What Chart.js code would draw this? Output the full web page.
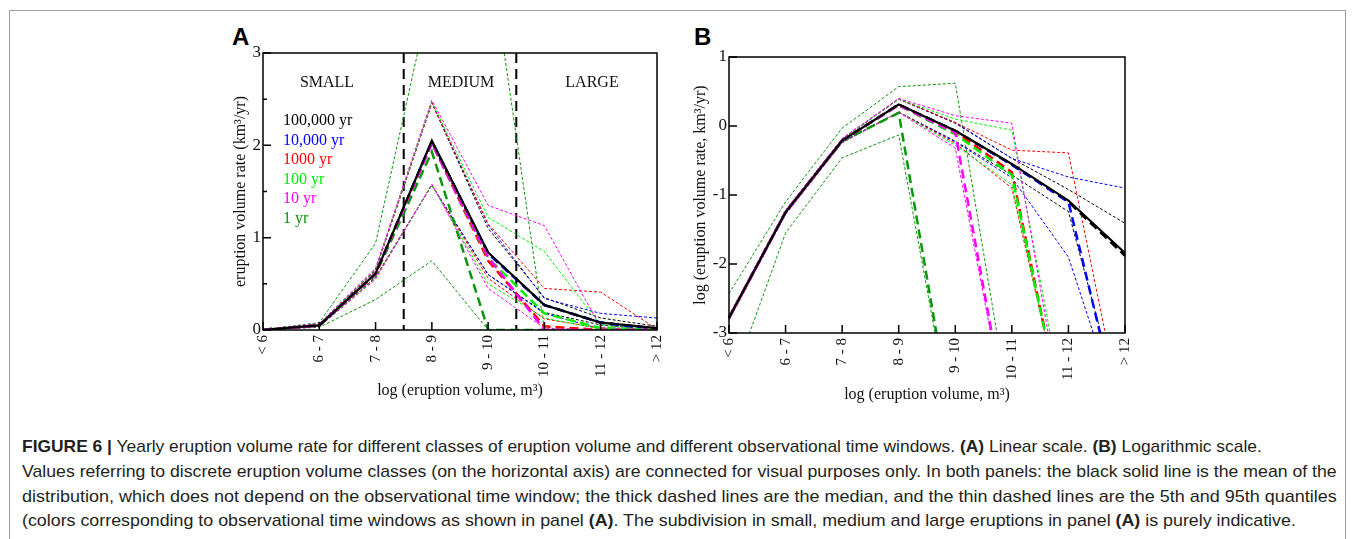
<!DOCTYPE html>
<html>
<head>
<meta charset="utf-8">
<script src="https://cdn.jsdelivr.net/npm/chart.js@4.4.1/dist/chart.umd.min.js"></script>
<style>
  body { margin: 0; background: #fff; width: 1356px; height: 539px; overflow: hidden; position: relative;
         font-family: "Liberation Serif", "DejaVu Serif", serif; color: #111; }
  .frame { position: absolute; left: 9px; top: 10px; width: 1335px; height: 540px; border: 1px solid #a0a0a0; }
  .box { position: absolute; }
  .panel { position: absolute; font: bold 24px "Liberation Sans", Arial, sans-serif; color: #000; }
  .region { position: absolute; font-size: 16px; transform: translateX(-50%); white-space: nowrap; }
  .leg { position: absolute; left: 283px; font-size: 16px; line-height: 18px; white-space: nowrap; }
  .cap { position: absolute; left: 22px; font: 17px "Liberation Sans", Arial, sans-serif; line-height: 20px;
         white-space: nowrap; color: #231f20; transform-origin: 0 0; }
</style>
</head>
<body>
<div class="frame"></div>

<div class="panel" style="left:232px;top:23px">A</div>
<div class="panel" style="left:694px;top:23px">B</div>

<div class="box" style="left:200px;top:20px"><canvas id="chartA" width="480" height="400"></canvas></div>
<div class="box" style="left:680px;top:20px"><canvas id="chartB" width="470" height="400"></canvas></div>

<div class="region" style="left:327px;top:73px">SMALL</div>
<div class="region" style="left:461px;top:73px">MEDIUM</div>
<div class="region" style="left:592px;top:73px">LARGE</div>
<div id="legend"></div>

<div class="cap" id="cap1" style="top:437px"><b>FIGURE 6 |</b> Yearly eruption volume rate for different classes of eruption volume and different observational time windows. <b>(A)</b> Linear scale. <b>(B)</b> Logarithmic scale.</div>
<div class="cap" id="cap2" style="top:462px">Values referring to discrete eruption volume classes (on the horizontal axis) are connected for visual purposes only. In both panels: the black solid line is the mean of the</div>
<div class="cap" id="cap3" style="top:487px">distribution, which does not depend on the observational time window; the thick dashed lines are the median, and the thin dashed lines are the 5th and 95th quantiles</div>
<div class="cap" id="cap4" style="top:511px">(colors corresponding to observational time windows as shown in panel <b>(A)</b>. The subdivision in small, medium and large eruptions in panel <b>(A)</b> is purely indicative.</div>

<script>
// Categories and time windows
const categories = ['< 6', '6 - 7', '7 - 8', '8 - 9', '9 - 10', '10 - 11', '11 - 12', '> 12'];
const windows = ['100,000 yr', '10,000 yr', '1000 yr', '100 yr', '10 yr', '1 yr'];
const colors = ['#000000', '#0000ff', '#ff0000', '#00ee00', '#ff00ff', '#0a960a'];
const dividers = [2.5, 4.5];

// Panel A: linear rate (km3/yr), one row per time window
const aMean = [0.003, 0.05, 0.61, 2.05, 0.84, 0.27, 0.08, 0.02];
const aMedian = [
    [0.003, 0.05, 0.61, 2.04, 0.83, 0.27, 0.08, 0.015],
    [0.003, 0.05, 0.61, 2.04, 0.83, 0.27, 0.08, 0],
    [0.003, 0.05, 0.61, 2.03, 0.75, 0.04, 0, 0],
    [0.003, 0.05, 0.61, 2.02, 0.78, 0.18, 0.02, 0],
    [0.003, 0.05, 0.61, 2.02, 0.79, 0, 0, 0],
    [0.003, 0.05, 0.6, 1.93, 0, 0, 0, 0]
];
const aQ95 = [
    [0.003, 0.06, 0.65, 2.46, 1.1, 0.35, 0.13, 0.04],
    [0.003, 0.06, 0.65, 2.46, 1.14, 0.34, 0.18, 0.13],
    [0.003, 0.06, 0.65, 2.46, 1.15, 0.45, 0.41, 0.01],
    [0.003, 0.06, 0.66, 2.47, 1.22, 0.85, 0.05, 0],
    [0.003, 0.07, 0.67, 2.49, 1.35, 1.13, 0.03, 0],
    [0.004, 0.08, 0.94, 3.7, 4.2, 0, 0, 0]
];
const aQ05 = [
    [0.002, 0.04, 0.57, 1.57, 0.6, 0.19, 0.055, 0],
    [0.002, 0.04, 0.57, 1.57, 0.6, 0.18, 0.012, 0],
    [0.002, 0.04, 0.57, 1.57, 0.56, 0.12, 0.02, 0],
    [0.002, 0.04, 0.56, 1.57, 0.5, 0.13, 0.01, 0],
    [0.002, 0.035, 0.55, 1.58, 0.45, 0.02, 0, 0],
    [0, 0.03, 0.33, 0.75, 0, 0, 0, 0]
];

// Panel B: log10 of the rate
const bMean = [-2.78, -1.25, -0.21, 0.31, -0.07, -0.55, -1.08, -1.84];
const bMedian = [
    [-2.78, -1.25, -0.21, 0.31, -0.07, -0.56, -1.1, -1.88],
    [-2.78, -1.25, -0.21, 0.31, -0.07, -0.56, -1.1, -4.5],
    [-2.78, -1.25, -0.21, 0.31, -0.08, -0.67, -4.6, -4.6],
    [-2.78, -1.25, -0.21, 0.3, -0.12, -0.71, -4.6, -4.6],
    [-2.78, -1.25, -0.21, 0.3, -0.1, -4.6, -4.6, -4.6],
    [-2.78, -1.25, -0.22, 0.19, -4.6, -4.6, -4.6, -4.6]
];
const bQ95 = [
    [-2.76, -1.23, -0.19, 0.39, 0.04, -0.47, -0.92, -1.41],
    [-2.76, -1.23, -0.19, 0.39, 0.05, -0.47, -0.74, -0.9],
    [-2.76, -1.23, -0.19, 0.39, 0.05, -0.35, -0.39, -4.4],
    [-2.76, -1.23, -0.19, 0.39, 0.1, -0.06, -4.4, -4.6],
    [-2.745, -1.215, -0.18, 0.4, 0.15, 0.04, -4.7, -4.7],
    [-2.43, -1.1, -0.03, 0.57, 0.62, -4.3, -4.6, -4.6]
];
const bQ05 = [
    [-2.8, -1.27, -0.23, 0.2, -0.22, -0.71, -1.24, -4.3],
    [-2.8, -1.27, -0.23, 0.2, -0.23, -0.75, -1.9, -4.4],
    [-2.8, -1.27, -0.24, 0.2, -0.25, -0.9, -4.5, -4.6],
    [-2.8, -1.27, -0.24, 0.2, -0.28, -0.85, -4.5, -4.6],
    [-2.815, -1.285, -0.245, 0.2, -0.32, -4.6, -4.6, -4.6],
    [-3.83, -1.55, -0.46, -0.13, -4.6, -4.6, -4.6, -4.6]
];

const SERIF = '"Liberation Serif", "DejaVu Serif", serif';

// Legend text inside panel A
document.getElementById('legend').innerHTML = windows.map((w, i) =>
    `<div class="leg" style="top:${111 + i * 19.6}px;color:${colors[i]}">${w}</div>`).join('');

// Frame, inward ticks and region dividers
const frameTicks = {
    id: 'frameTicks',
    beforeDatasetsDraw(chart, args, opts) {
        const { ctx, chartArea: a, scales: { x } } = chart;
        if (!opts.dividers) return;
        ctx.save();
        ctx.strokeStyle = '#000';
        ctx.lineWidth = 2;
        ctx.setLineDash([10, 6]);
        opts.dividers.forEach(v => {
            const px = x.getPixelForValue(v);
            ctx.beginPath();
            ctx.moveTo(px, a.top);
            ctx.lineTo(px, a.bottom);
            ctx.stroke();
        });
        ctx.restore();
    },
    afterDatasetsDraw(chart, args, opts) {
        const { ctx, chartArea: a, scales: { x, y } } = chart;
        ctx.save();
        ctx.strokeStyle = '#000';
        ctx.lineWidth = 1.5;
        ctx.strokeRect(a.left, a.top, a.right - a.left, a.bottom - a.top);
        ctx.beginPath();
        y.ticks.forEach(t => {
            const py = y.getPixelForValue(t.value);
            ctx.moveTo(a.left, py);
            ctx.lineTo(a.left + 8, py);
        });
        (opts.minor || []).forEach(v => {
            const py = y.getPixelForValue(v);
            ctx.moveTo(a.left, py);
            ctx.lineTo(a.left + 4, py);
        });
        x.ticks.forEach((t, i) => {
            const px = x.getPixelForTick(i);
            ctx.moveTo(px, a.bottom);
            ctx.lineTo(px, a.bottom - 8);
        });
        ctx.stroke();
        ctx.restore();
    }
};

// First dataset is drawn on top: mean, then medians, then quantiles (short windows above long ones)
function buildSets(mean, med, q95, q05) {
    const sets = [{ data: mean, borderColor: '#000', borderWidth: 2.2 }];
    const order = [4, 3, 2, 1, 0, 5];
    order.forEach(i => sets.push({ data: med[i], borderColor: colors[i], borderWidth: 2.5, borderDash: [9, 5] }));
    order.forEach(i => {
        sets.push({ data: q95[i], borderColor: colors[i], borderWidth: 1, borderDash: [3, 2] });
        sets.push({ data: q05[i], borderColor: colors[i], borderWidth: 1, borderDash: [3, 2] });
    });
    return sets;
}

function makeChart(id, cfg) {
    return new Chart(document.getElementById(id), {
        type: 'line',
        data: { labels: categories, datasets: cfg.sets },
        options: {
            responsive: false,
            animation: false,
            devicePixelRatio: 1,
            layout: { padding: cfg.padding },
            elements: { point: { radius: 0 }, line: { tension: 0 } },
            plugins: { legend: { display: false }, tooltip: { enabled: false }, frameTicks: cfg.frame },
            scales: {
                x: {
                    grid: { display: false, drawTicks: false },
                    border: { display: false },
                    ticks: { minRotation: 90, maxRotation: 90, autoSkip: false, padding: 5, color: '#111',
                             font: { family: SERIF, size: 15 } },
                    title: { display: true, text: 'log (eruption volume, m³)', color: '#111',
                             font: { family: SERIF, size: 16 }, padding: { top: 0, bottom: cfg.xTitlePad } },
                    afterFit(s) { s.height = cfg.xHeight; }
                },
                y: {
                    min: cfg.min, max: cfg.max,
                    grid: { display: false, drawTicks: false },
                    border: { display: false },
                    ticks: { stepSize: 1, padding: 2, color: '#111', font: { family: SERIF, size: 17 } },
                    title: { display: true, text: cfg.yTitle, color: '#111',
                             font: { family: SERIF, size: 16 }, padding: { top: cfg.yTitlePad, bottom: 0 } },
                    afterFit(s) { s.width = cfg.yWidth; }
                }
            }
        },
        plugins: [frameTicks]
    });
}

makeChart('chartA', {
    sets: buildSets(aMean, aMedian, aQ95, aQ05),
    min: 0, max: 3,
    padding: { top: 33, right: 21, left: 0, bottom: 0 },
    xHeight: 90, yWidth: 63, xTitlePad: 20, yTitlePad: 31,
    yTitle: 'eruption volume rate (km³/yr)',
    frame: { minor: [0.5, 1.5, 2.5], dividers: dividers }
});

makeChart('chartB', {
    sets: buildSets(bMean, bMedian, bQ95, bQ05),
    min: -3, max: 1,
    padding: { top: 37, right: 25, left: 0, bottom: 0 },
    xHeight: 87, yWidth: 49, xTitlePad: 16, yTitlePad: 11,
    yTitle: 'log (eruption volume rate, km³/yr)',
    frame: {}
});

// Fit caption lines to the widths seen in the figure
const capWidths = { cap1: 1240, cap2: 1315, cap3: 1315, cap4: 1274 };
Object.keys(capWidths).forEach(id => {
    const el = document.getElementById(id);
    el.style.transform = `scaleX(${capWidths[id] / el.offsetWidth})`;
});
</script>
</body>
</html>
